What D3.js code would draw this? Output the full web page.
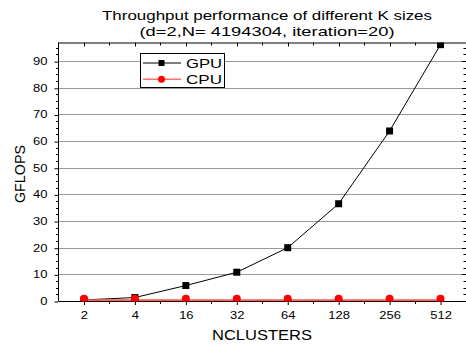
<!DOCTYPE html>
<html>
<head>
<meta charset="utf-8">
<script src="https://cdn.jsdelivr.net/npm/d3@7"></script>
<style>
  html, body { margin: 0; padding: 0; background: #fff; }
  svg { display: block; font-family: "Liberation Sans", Arial, sans-serif; }
</style>
</head>
<body>
<div id="chart"></div>
<script>
// data
const categories = ['2', '4', '16', '32', '64', '128', '256', '512'];
const gpuValues = [0.4, 1.3, 5.8, 10.8, 20.0, 36.5, 63.8, 96.2];
const cpuValues = [0.3, 0.3, 0.3, 0.3, 0.3, 0.3, 0.3, 0.3];
const yTicks = [0, 10, 20, 30, 40, 50, 60, 70, 80, 90];
const titleLines = ['Throughput performance of different K sizes', '(d=2,N= 4194304, iteration=20)'];

const W = 466, H = 348;
const plotL = 58.5, plotR = 466, plotT = 42.5, plotB = 301;
const SX = 1.18; // text in the original is a bit wider than Arial

const svg = d3.select('#chart').append('svg')
  .attr('width', W).attr('height', H);

const x = d3.scalePoint().domain(categories).range([plotL, plotR]).padding(0.5);
const y = d3.scaleLinear().domain([0, 97]).range([plotB, plotT]);
const step = x.step();
const py = v => Math.round(y(v)) + 0.5;
const px = v => Math.round(v) + 0.5;

svg.append('defs').append('clipPath').attr('id', 'plotclip')
  .append('rect').attr('x', plotL).attr('y', plotT).attr('width', plotR - plotL).attr('height', plotB - plotT + 0.5);

// grid
svg.append('g').selectAll('line')
  .data(yTicks.filter(d => d > 0))
  .join('line')
  .attr('x1', plotL).attr('x2', plotR)
  .attr('y1', py).attr('y2', py)
  .attr('stroke', '#999').attr('stroke-width', 1);

// frame
const frame = svg.append('g').attr('stroke', '#000').attr('stroke-width', 1);
frame.append('line').attr('x1', plotL).attr('x2', plotL).attr('y1', plotT).attr('y2', plotB);
frame.append('line').attr('x1', plotL).attr('x2', plotR).attr('y1', plotT + 0.5).attr('y2', plotT + 0.5);

// y axis (left), ticks outward, minors every 2.5
const yAxis = svg.append('g').attr('transform', `translate(${plotL},0)`)
  .call(d3.axisLeft(y).tickValues(yTicks).tickSize(4).tickFormat(d3.format('d')));
yAxis.select('.domain').remove();
yAxis.selectAll('.tick line').attr('transform', 'translate(0,0.5)');
yAxis.selectAll('text')
  .attr('font-size', 11).attr('font-family', '"Liberation Sans", Arial, sans-serif').attr('fill', '#000')
  .attr('x', -11 / SX).attr('transform', `scale(${SX},1)`);
const yMinor = d3.range(0, 97, 2.5).filter(v => v % 10 !== 0);
svg.append('g').selectAll('line').data(yMinor).join('line')
  .attr('x1', plotL - 2.5).attr('x2', plotL)
  .attr('y1', py).attr('y2', py)
  .attr('stroke', '#000');
// right side inward ticks
svg.append('g').selectAll('line')
  .data(yMinor.map(v => ({ v, major: false })).concat(yTicks.map(v => ({ v, major: true }))))
  .join('line')
  .attr('x1', d => plotR - (d.major ? 4 : 2.5)).attr('x2', plotR)
  .attr('y1', d => py(d.v)).attr('y2', d => py(d.v))
  .attr('stroke', '#000');

// x axis bottom
const xAxis = svg.append('g').attr('transform', `translate(0,${plotB})`)
  .call(d3.axisBottom(x).tickSize(4).tickPadding(6.5).tickSizeOuter(0));
xAxis.select('.domain').attr('d', `M${plotL},0.5H${plotR}`);
xAxis.selectAll('text')
  .attr('font-size', 11).attr('font-family', '"Liberation Sans", Arial, sans-serif').attr('fill', '#000')
  .attr('transform', `scale(${SX},1)`);
const xMinor = categories.slice(0, -1).map(c => x(c) + step / 2);
svg.append('g').selectAll('line').data(xMinor).join('line')
  .attr('x1', px).attr('x2', px)
  .attr('y1', plotB).attr('y2', plotB + 3)
  .attr('stroke', '#000');
// top inward ticks
svg.append('g').selectAll('line')
  .data(categories.map(c => ({ v: x(c), major: true })).concat(xMinor.map(v => ({ v, major: false }))))
  .join('line')
  .attr('x1', d => px(d.v)).attr('x2', d => px(d.v))
  .attr('y1', plotT).attr('y2', d => plotT + (d.major ? 4 : 3))
  .attr('stroke', '#000');

// series, clipped to the plot area
const series = svg.append('g').attr('clip-path', 'url(#plotclip)');
const line = d3.line().x((d, i) => x(categories[i])).y(d => y(d));
series.append('path').datum(gpuValues).attr('d', line)
  .attr('fill', 'none').attr('stroke', '#000').attr('stroke-width', 1);
series.append('path').datum(cpuValues).attr('d', line)
  .attr('fill', 'none').attr('stroke', '#ff5a5a').attr('stroke-width', 2);
series.append('g').selectAll('rect').data(gpuValues).join('rect')
  .attr('x', (d, i) => x(categories[i]) - 3.5).attr('y', d => y(d) - 3.5)
  .attr('width', 7).attr('height', 7).attr('fill', '#000');
series.append('g').selectAll('circle').data(cpuValues).join('circle')
  .attr('cx', (d, i) => x(categories[i])).attr('cy', d => y(d) - 1.5)
  .attr('r', 4).attr('fill', '#ff0000');

// legend
const lg = svg.append('g');
lg.append('rect').attr('x', 140.5).attr('y', 53.5).attr('width', 84).attr('height', 34)
  .attr('fill', '#fff').attr('stroke', '#000');
const legendItems = [
  { name: 'GPU', stroke: '#000', fill: '#000', shape: 'square' },
  { name: 'CPU', stroke: '#ff7070', fill: '#ff0000', shape: 'circle' }
];
legendItems.forEach((it, i) => {
  const cy = 63 + i * 16.3;
  lg.append('line').attr('x1', 143).attr('x2', 181).attr('y1', cy).attr('y2', cy)
    .attr('stroke', it.stroke).attr('stroke-width', it.shape === 'circle' ? 1.5 : 1);
  if (it.shape === 'square') {
    lg.append('rect').attr('x', 158.5).attr('y', cy - 3).attr('width', 6).attr('height', 6).attr('fill', it.fill);
  } else {
    lg.append('circle').attr('cx', 161.5).attr('cy', cy).attr('r', 3.5).attr('fill', it.fill);
  }
  lg.append('text').attr('x', 186).attr('y', cy + 5)
    .attr('font-size', 13.5).attr('textLength', 36).attr('lengthAdjust', 'spacingAndGlyphs')
    .attr('fill', '#000').text(it.name);
});

// titles
const titleWidths = [330, 255];
svg.append('g').selectAll('text').data(titleLines).join('text')
  .attr('x', 267).attr('y', (d, i) => 20 + i * 15.5)
  .attr('text-anchor', 'middle').attr('font-size', 13.5).attr('fill', '#000')
  .attr('textLength', (d, i) => titleWidths[i]).attr('lengthAdjust', 'spacingAndGlyphs')
  .text(d => d);

svg.append('text').attr('x', 262).attr('y', 340).attr('text-anchor', 'middle')
  .attr('font-size', 14).attr('textLength', 100).attr('lengthAdjust', 'spacingAndGlyphs')
  .attr('fill', '#000').text('NCLUSTERS');
svg.append('text').attr('transform', 'translate(25,174) rotate(-90)').attr('text-anchor', 'middle')
  .attr('font-size', 14.3).attr('fill', '#000').text('GFLOPS');
</script>
</body>
</html>
